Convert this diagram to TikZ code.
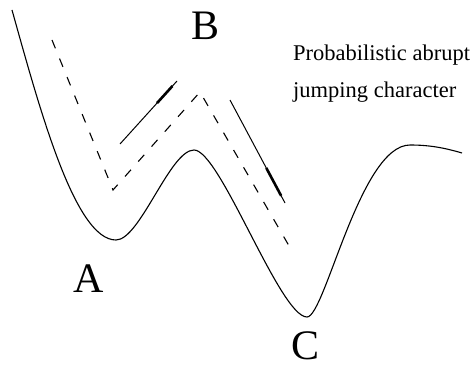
\documentclass[tikz,border=0pt]{standalone}
\usepackage{fontspec}
\setmainfont{Liberation Serif}
\usetikzlibrary{calc}
\begin{document}
\begin{tikzpicture}[x=1pt,y=-1pt,
  curve/.style={line width=1.1pt},
  path/.style={line width=1.1pt, dash pattern=on 9pt off 11pt},
  move/.style={line width=1pt},
  head/.style={line width=2.6pt},
  big/.style={font=\fontsize{42}{42}\selectfont, inner sep=0pt, anchor=base},
  note/.style={font=\fontsize{22.5}{22.5}\selectfont, inner sep=0pt, anchor=base west}]
\useasboundingbox (0,0) rectangle (471,369);
% energy landscape
\draw[curve] (12,10) .. controls (40,110) and (75,240) .. (116,240)
  .. controls (140,240) and (170,150) .. (194,150)
  .. controls (220,150) and (280,317) .. (307,317)
  .. controls (325,317) and (360,145) .. (410,145)
  .. controls (430,145) and (445,148) .. (462,153);
% dashed trajectory
\coordinate (d0) at (52,40);
\coordinate (d1) at (113,190);
\coordinate (d2) at (200,92);
\coordinate (d3) at (292,251);
\draw[path] (d0) -- (d1) -- (d2) -- (d3);
% motion arrows
\coordinate (l0) at (120,144);
\coordinate (l1) at (177,81);
\coordinate (r0) at (230,100);
\coordinate (r1) at (285,203);
\draw[move] (l0) -- (l1);
\draw[head] ($(l0)!0.65!(l1)$) -- ($(l0)!0.92!(l1)$);
\draw[move] (r0) -- (r1);
\draw[head] ($(r0)!0.66!(r1)$) -- ($(r0)!0.93!(r1)$);
% labels
\node[big] (A) at (89,292) {A};
\node[big] (B) at (206,40) {B};
\node[big] (C) at (306,359) {C};
\node[note] (t1) at (293,61) {Probabilistic abrupt};
\node[note] (t2) at (293,97) {jumping character};
\end{tikzpicture}
\end{document}
